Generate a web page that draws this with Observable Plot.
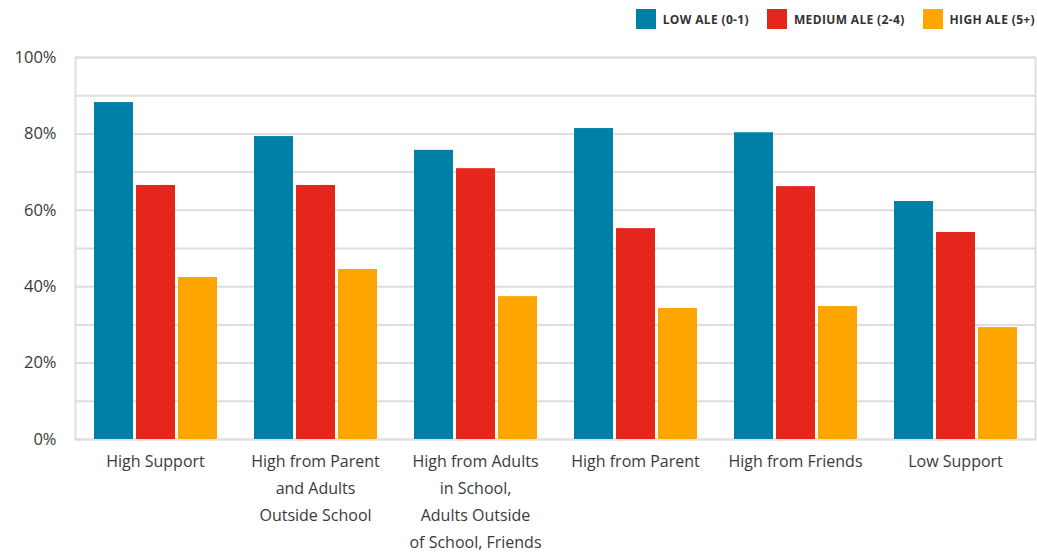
<!DOCTYPE html>
<html>
<head>
<meta charset="utf-8">
<script src="https://cdn.jsdelivr.net/npm/d3@7"></script>
<script src="https://cdn.jsdelivr.net/npm/@observablehq/plot@0.6"></script>
<style>
  body { margin: 0; background: #fff; font-family: "Open Sans", sans-serif; }
  #legend { width: 1037px; height: 38px; box-sizing: border-box; padding-right: 2px;
            display: flex; justify-content: flex-end; align-items: flex-start; }
  .item { display: flex; align-items: center; margin-left: 18px; margin-top: 9px;
          font-size: 12px; font-weight: 700; letter-spacing: 0.35px; color: #333; }
  .sw { width: 20px; height: 20px; margin-right: 7px; }
</style>
</head>
<body>
<div id="legend"></div>
<div id="chart"></div>
<script>
// Support profiles (x groups) and their wrapped axis labels
const groups = [
  "High Support",
  "High from Parent and Adults Outside School",
  "High from Adults in School, Adults Outside of School, Friends",
  "High from Parent",
  "High from Friends",
  "Low Support"
];
const groupLabels = [
  "High Support",
  "High from Parent\nand Adults\nOutside School",
  "High from Adults\nin School,\nAdults Outside\nof School, Friends",
  "High from Parent",
  "High from Friends",
  "Low Support"
];

// ALE level series
const series = ["LOW ALE (0-1)", "MEDIUM ALE (2-4)", "HIGH ALE (5+)"];
const colors = ["#0180a7", "#e4261c", "#fea500"];

// Percent values per group
const lowAle    = [88.2, 79.3, 75.7, 81.4, 80.3, 62.3];
const mediumAle = [66.5, 66.5, 70.9, 55.2, 66.2, 54.2];
const highAle   = [42.4, 44.5, 37.4, 34.3, 34.8, 29.3];

const yTicks = [0, 20, 40, 60, 80, 100];

const valuesBySeries = [lowAle, mediumAle, highAle];
const rows = groups.flatMap((g, i) =>
  series.map((s, j) => ({group: g, series: s, value: valuesBySeries[j][i]}))
);

// Legend
const legend = document.getElementById("legend");
series.forEach((s, j) => {
  const item = document.createElement("div");
  item.className = "item";
  item.innerHTML = `<span class="sw" style="background:${colors[j]}"></span><span>${s}</span>`;
  legend.appendChild(item);
});

const chart = Plot.plot({
  width: 1037,
  height: 516,
  marginTop: 19,
  marginBottom: 115,
  marginLeft: 75,
  marginRight: 2,
  style: {fontFamily: "'Open Sans', sans-serif", color: "#3a3a3a", background: "#fff"},
  fx: {domain: groups, padding: 0, label: null},
  x: {domain: series, paddingInner: 0.08, paddingOuter: 0.43, axis: null},
  y: {domain: [0, 100], axis: null},
  color: {domain: series, range: colors},
  marks: [
    Plot.gridY(d3.range(0, 101, 10), {stroke: "#dedede", strokeWidth: 2, strokeOpacity: 1}),
    Plot.frame({stroke: "#dedede", strokeWidth: 2, facet: "super"}),
    Plot.barY(rows, {fx: "group", x: "series", y: "value", fill: "series"}),
    Plot.axisY(yTicks, {
      tickSize: 0, tickPadding: 19, fontSize: 16.5, label: null,
      tickFormat: d => d + "%"
    }),
    Plot.axisFx({
      anchor: "bottom",
      tickSize: 0, tickPadding: 9, fontSize: 16, lineHeight: 1.67, label: null,
      tickFormat: g => groupLabels[groups.indexOf(g)]
    })
  ]
});
document.getElementById("chart").appendChild(chart);
</script>
</body>
</html>
